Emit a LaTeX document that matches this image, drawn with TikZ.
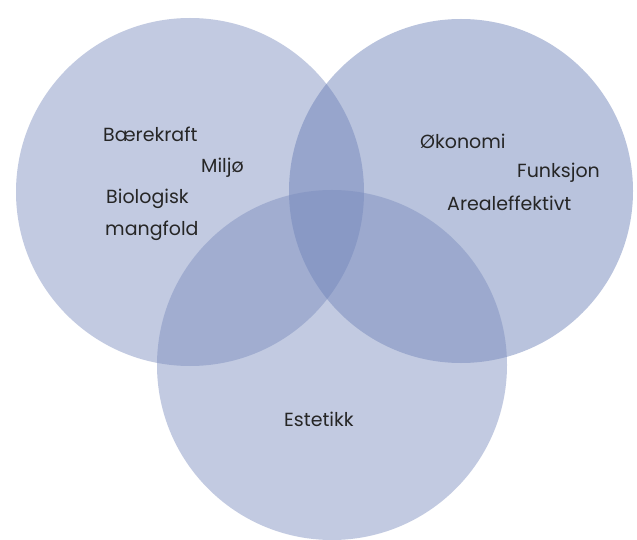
\documentclass[tikz,border=0pt]{standalone}
\usepackage{fontspec}
\setmainfont{Poppins}
\begin{document}
\begin{tikzpicture}[x=1pt,y=-1pt,
  circ/.style={fill=#1,fill opacity=0.45,draw=none},
  lbl/.style={anchor=west,inner sep=0pt,font=\fontsize{19}{22}\selectfont,text=black!85}]
\definecolor{cl}{RGB}{121,139,189}
\definecolor{cr}{RGB}{100,122,180}
\useasboundingbox (0,0) rectangle (637,540);
\fill[white] (0,0) rectangle (637,540);
\path[circ=cl] (190,192) circle[radius=174];
\path[circ=cr] (461,191) circle[radius=172];
\path[circ=cl] (332,365) circle[radius=175];
\node[lbl] (b) at (103,134) {Bærekraft};
\node[lbl] (m) at (201,168) {Miljø};
\node[lbl] (bi) at (106,199) {Biologisk};
\node[lbl] (mg) at (105,231) {mangfold};
\node[lbl] (o) at (420,141) {Økonomi};
\node[lbl] (f) at (517,173) {Funksjon};
\node[lbl] (a) at (447,203) {Arealeffektivt};
\node[lbl] (e) at (284,419) {Estetikk};
\end{tikzpicture}
\end{document}
